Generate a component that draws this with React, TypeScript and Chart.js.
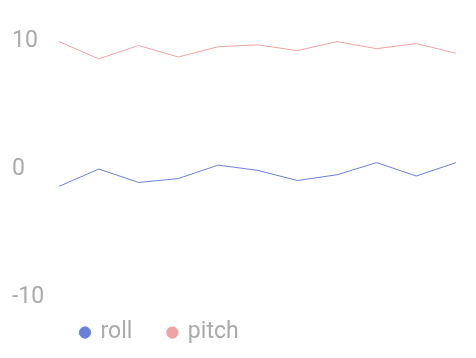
import React, { useEffect, useRef } from "react";
import { Chart, registerables } from "chart.js";

Chart.register(...registerables);

const labels = ["1", "2", "3", "4", "5", "6", "7", "8", "9", "10", "11"];
const rollValues = [-1.35, 0.0, -1.05, -0.75, 0.3, -0.1, -0.9, -0.45, 0.5, -0.55, 0.5];
const pitchValues = [9.95, 8.6, 9.65, 8.75, 9.55, 9.7, 9.25, 9.95, 9.4, 9.8, 9.05];
const yTicks = [-10, 0, 10];

const legendShift = {
  id: "legendShift",
  afterLayout(chart: any) {
    if (chart.legend) {
      chart.legend.left += 33;
      chart.legend.top -= 12;
    }
  },
};

export default function App() {
  const ref = useRef<HTMLCanvasElement | null>(null);
  useEffect(() => {
    if (!ref.current) return;
    const chart = new Chart(ref.current, {
      type: "line",
      data: {
        labels,
        datasets: [
          {
            label: "roll",
            data: rollValues,
            borderColor: "#6b80dc",
            backgroundColor: "#6b80dc",
            borderWidth: 1,
            pointRadius: 0,
            pointStyle: "circle",
            tension: 0,
          },
          {
            label: "pitch",
            data: pitchValues,
            borderColor: "#f0a3a3",
            backgroundColor: "#f0a3a3",
            borderWidth: 1,
            pointRadius: 0,
            pointStyle: "circle",
            tension: 0,
          },
        ],
      },
      options: {
        animation: false,
        responsive: true,
        maintainAspectRatio: false,
        layout: { padding: { top: 33, left: 4, right: 12, bottom: -16 } },
        scales: {
          x: { display: false },
          y: {
            min: -10,
            max: 10,
            afterBuildTicks: (axis: any) => {
              axis.ticks = yTicks.map((v) => ({ value: v }));
            },
            grid: { display: false },
            border: { display: false },
            ticks: {
              color: "#aaaaaa",
              font: { family: "Roboto", size: 23 },
              crossAlign: "far",
              padding: 3.5,
            },
          },
        },
        plugins: {
          legend: {
            position: "bottom",
            align: "start",
            labels: {
              usePointStyle: true,
              boxWidth: 8,
              boxHeight: 8,
              padding: 36,
              color: "#aaaaaa",
              font: { family: "Roboto", size: 23 },
            },
          },
          tooltip: { enabled: false },
        },
      },
      plugins: [legendShift],
    });
    return () => chart.destroy();
  }, []);
  return (
    <div style={{ position: "relative", width: 460, height: 342 }}>
      <canvas ref={ref} />
    </div>
  );
}
